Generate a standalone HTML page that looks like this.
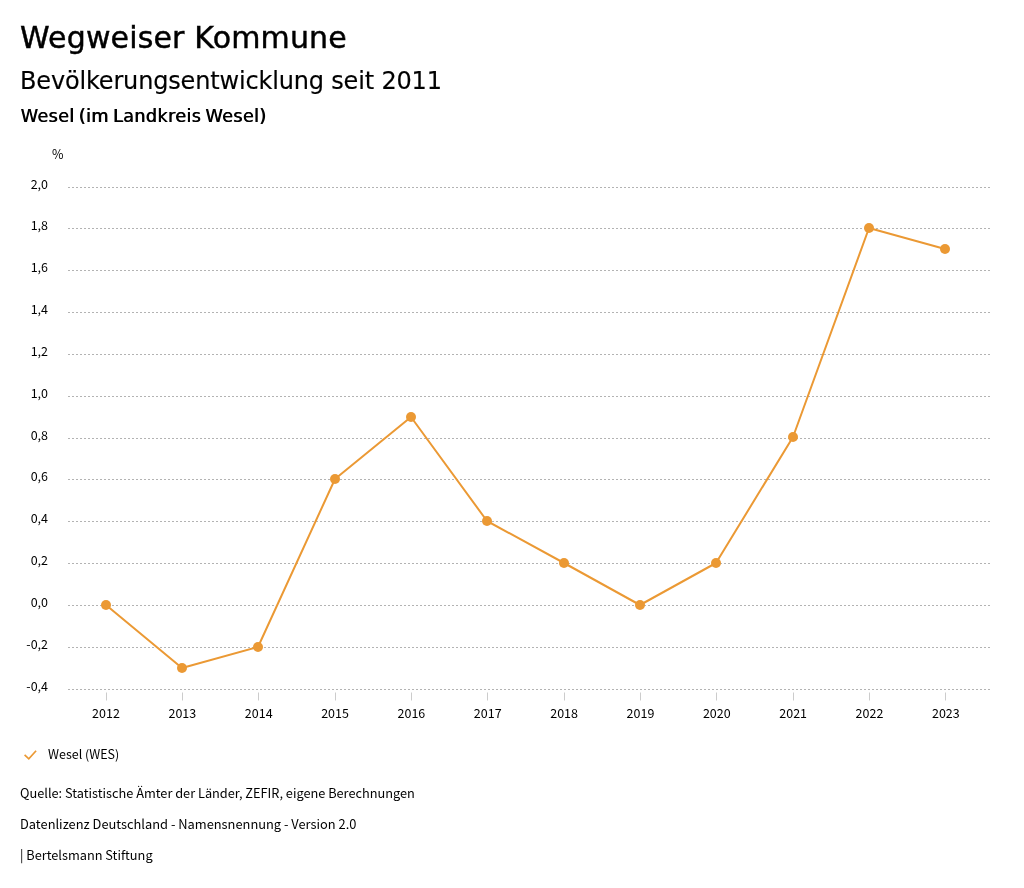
<!DOCTYPE html>
<html lang="de"><head><meta charset="utf-8"><title>Wegweiser Kommune</title>
<style>
html,body{margin:0;padding:0;background:#fff;}
body{width:1024px;height:888px;overflow:hidden;position:relative;}
svg{position:absolute;left:0;top:0;display:block;}
.t{font-family:"DejaVu Sans","Liberation Sans",sans-serif;fill:#000;}
.s{font-family:"Noto Sans CJK JP","Noto Sans CJK SC","Liberation Sans",sans-serif;fill:#000;}
</style></head><body>
<svg width="1024" height="888" viewBox="0 0 1024 888">
<rect width="1024" height="888" fill="#fff"/>
<text class="t" x="20" y="48" font-size="30" letter-spacing="0.16" stroke="#000" stroke-width="0.45">Wegweiser Kommune</text>
<text class="t" x="20" y="89" font-size="24" letter-spacing="-0.17" stroke="#000" stroke-width="0.15">Bevölkerungsentwicklung seit 2011</text>
<text class="t" x="20.4" y="122.2" font-size="17.6" letter-spacing="0.38" word-spacing="-1.8" style="text-shadow:0.7px 0 0 #000">Wesel (im Landkreis Wesel)</text>
<text class="s" x="52" y="159" font-size="12.5">%</text>
<line x1="68" x2="990" y1="187.50" y2="187.50" stroke="#b3b3b3" stroke-width="1" stroke-dasharray="2 2"/>
<text class="s" x="48" y="189.00" font-size="12.5" text-anchor="end">2,0</text>
<line x1="68" x2="990" y1="228.50" y2="228.50" stroke="#b3b3b3" stroke-width="1" stroke-dasharray="2 2"/>
<text class="s" x="48" y="230.00" font-size="12.5" text-anchor="end">1,8</text>
<line x1="68" x2="990" y1="270.50" y2="270.50" stroke="#b3b3b3" stroke-width="1" stroke-dasharray="2 2"/>
<text class="s" x="48" y="272.00" font-size="12.5" text-anchor="end">1,6</text>
<line x1="68" x2="990" y1="312.50" y2="312.50" stroke="#b3b3b3" stroke-width="1" stroke-dasharray="2 2"/>
<text class="s" x="48" y="314.00" font-size="12.5" text-anchor="end">1,4</text>
<line x1="68" x2="990" y1="354.50" y2="354.50" stroke="#b3b3b3" stroke-width="1" stroke-dasharray="2 2"/>
<text class="s" x="48" y="356.00" font-size="12.5" text-anchor="end">1,2</text>
<line x1="68" x2="990" y1="396.50" y2="396.50" stroke="#b3b3b3" stroke-width="1" stroke-dasharray="2 2"/>
<text class="s" x="48" y="398.00" font-size="12.5" text-anchor="end">1,0</text>
<line x1="68" x2="990" y1="438.50" y2="438.50" stroke="#b3b3b3" stroke-width="1" stroke-dasharray="2 2"/>
<text class="s" x="48" y="440.00" font-size="12.5" text-anchor="end">0,8</text>
<line x1="68" x2="990" y1="479.50" y2="479.50" stroke="#b3b3b3" stroke-width="1" stroke-dasharray="2 2"/>
<text class="s" x="48" y="481.00" font-size="12.5" text-anchor="end">0,6</text>
<line x1="68" x2="990" y1="521.50" y2="521.50" stroke="#b3b3b3" stroke-width="1" stroke-dasharray="2 2"/>
<text class="s" x="48" y="523.00" font-size="12.5" text-anchor="end">0,4</text>
<line x1="68" x2="990" y1="563.50" y2="563.50" stroke="#b3b3b3" stroke-width="1" stroke-dasharray="2 2"/>
<text class="s" x="48" y="565.00" font-size="12.5" text-anchor="end">0,2</text>
<line x1="68" x2="990" y1="605.50" y2="605.50" stroke="#b3b3b3" stroke-width="1" stroke-dasharray="2 2"/>
<text class="s" x="48" y="607.00" font-size="12.5" text-anchor="end">0,0</text>
<line x1="68" x2="990" y1="647.50" y2="647.50" stroke="#b3b3b3" stroke-width="1" stroke-dasharray="2 2"/>
<text class="s" x="48" y="649.00" font-size="12.5" text-anchor="end">-0,2</text>
<line x1="68" x2="990" y1="689.50" y2="689.50" stroke="#b3b3b3" stroke-width="1" stroke-dasharray="2 2"/>
<text class="s" x="48" y="691.00" font-size="12.5" text-anchor="end">-0,4</text>
<line x1="106.50" x2="106.50" y1="692.5" y2="700.5" stroke="#ccc" stroke-width="1"/>
<text class="s" x="106.00" y="718" font-size="12.5" text-anchor="middle">2012</text>
<line x1="182.50" x2="182.50" y1="692.5" y2="700.5" stroke="#ccc" stroke-width="1"/>
<text class="s" x="182.35" y="718" font-size="12.5" text-anchor="middle">2013</text>
<line x1="258.50" x2="258.50" y1="692.5" y2="700.5" stroke="#ccc" stroke-width="1"/>
<text class="s" x="258.70" y="718" font-size="12.5" text-anchor="middle">2014</text>
<line x1="335.50" x2="335.50" y1="692.5" y2="700.5" stroke="#ccc" stroke-width="1"/>
<text class="s" x="335.05" y="718" font-size="12.5" text-anchor="middle">2015</text>
<line x1="411.50" x2="411.50" y1="692.5" y2="700.5" stroke="#ccc" stroke-width="1"/>
<text class="s" x="411.40" y="718" font-size="12.5" text-anchor="middle">2016</text>
<line x1="487.50" x2="487.50" y1="692.5" y2="700.5" stroke="#ccc" stroke-width="1"/>
<text class="s" x="487.75" y="718" font-size="12.5" text-anchor="middle">2017</text>
<line x1="564.50" x2="564.50" y1="692.5" y2="700.5" stroke="#ccc" stroke-width="1"/>
<text class="s" x="564.10" y="718" font-size="12.5" text-anchor="middle">2018</text>
<line x1="640.50" x2="640.50" y1="692.5" y2="700.5" stroke="#ccc" stroke-width="1"/>
<text class="s" x="640.45" y="718" font-size="12.5" text-anchor="middle">2019</text>
<line x1="716.50" x2="716.50" y1="692.5" y2="700.5" stroke="#ccc" stroke-width="1"/>
<text class="s" x="716.80" y="718" font-size="12.5" text-anchor="middle">2020</text>
<line x1="793.50" x2="793.50" y1="692.5" y2="700.5" stroke="#ccc" stroke-width="1"/>
<text class="s" x="793.15" y="718" font-size="12.5" text-anchor="middle">2021</text>
<line x1="869.50" x2="869.50" y1="692.5" y2="700.5" stroke="#ccc" stroke-width="1"/>
<text class="s" x="869.50" y="718" font-size="12.5" text-anchor="middle">2022</text>
<line x1="945.50" x2="945.50" y1="692.5" y2="700.5" stroke="#ccc" stroke-width="1"/>
<text class="s" x="945.85" y="718" font-size="12.5" text-anchor="middle">2023</text>
<polyline points="106.00,605.00 182.00,668.00 258.00,647.00 335.00,479.00 411.00,417.00 487.00,521.00 564.00,563.00 640.00,605.00 716.00,563.00 793.00,437.00 869.00,228.00 945.00,249.00" fill="none" stroke="#eb9934" stroke-width="2" stroke-linejoin="round" stroke-linecap="round"/>
<circle cx="106.00" cy="605.00" r="5" fill="#eb9934"/>
<circle cx="182.00" cy="668.00" r="5" fill="#eb9934"/>
<circle cx="258.00" cy="647.00" r="5" fill="#eb9934"/>
<circle cx="335.00" cy="479.00" r="5" fill="#eb9934"/>
<circle cx="411.00" cy="417.00" r="5" fill="#eb9934"/>
<circle cx="487.00" cy="521.00" r="5" fill="#eb9934"/>
<circle cx="564.00" cy="563.00" r="5" fill="#eb9934"/>
<circle cx="640.00" cy="605.00" r="5" fill="#eb9934"/>
<circle cx="716.00" cy="563.00" r="5" fill="#eb9934"/>
<circle cx="793.00" cy="437.00" r="5" fill="#eb9934"/>
<circle cx="869.00" cy="228.00" r="5" fill="#eb9934"/>
<circle cx="945.00" cy="249.00" r="5" fill="#eb9934"/>
<path d="M24.6 754.8 L28.8 758.8 L36.1 750.8" fill="none" stroke="#eb9934" stroke-width="1.7" stroke-linecap="butt" stroke-linejoin="miter"/>
<text class="s" x="48" y="759" font-size="12.5">Wesel (WES)</text>
<text class="s" x="20" y="798" font-size="12.75">Quelle: Statistische Ämter der Länder, ZEFIR, eigene Berechnungen</text>
<text class="s" x="20" y="829.2" font-size="12.85">Datenlizenz Deutschland - Namensnennung - Version 2.0</text>
<text class="s" x="20" y="860.3" font-size="12.75">| Bertelsmann Stiftung</text>
</svg>
</body></html>
